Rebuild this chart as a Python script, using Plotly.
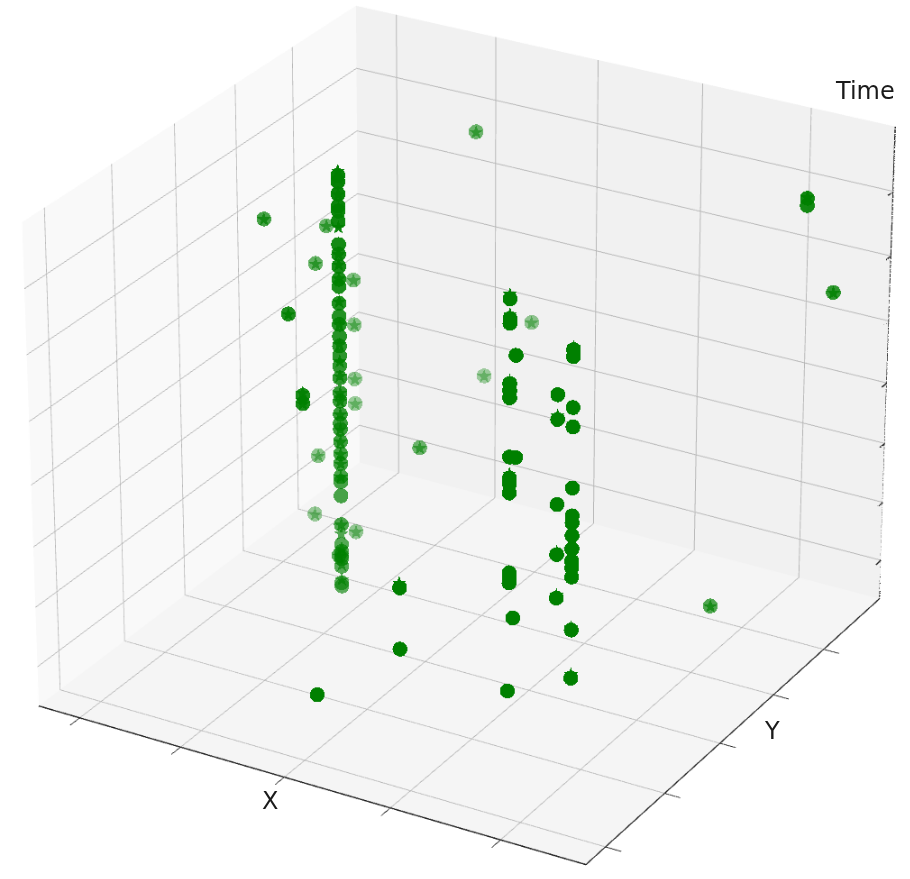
import numpy as np
import plotly.graph_objects as go

# Main column: circles and stars (Time values), with its X and Y
main_x, main_y = .265, .5
main_circle_t = [.935,.922,.897,.872,.862,.841,.793,.773,.748,.721,.706,.671,.644,.627,.602,.582,.561,.540,.515,
                 .483,.466,.438,.419,.406,.380,.354,.333,.305,.294,.264,.202,.159,.144,.134,.129,.112,.076,.069]
main_star_t = [.945,.930,.897,.868,.829,.773,.752,.723,.675,.627,.586,.550,.519,
               .483,.466,.438,.406,.380,.354,.333,.305,.202,.183,.151,.116,.084]

# Second column
mid_x, mid_y = .693, .3
mid_circle_t = [.895,.856,.846,.725,.711,.696,.576,.533,.521,.502,.337,.327,.316]
mid_star_t = [.905,.865,.731,.717,.542,.341]

# Third column and its neighbour
right_x, right_y = .805, .3
right_circle_t = [.825,.811,.709,.670,.546,.489,.474,.448,.421,.396,.382,.363,.253,.152]
right_star_t = [.831,.709,.670,.546,.489,.448,.421,.396,.382,.259,.161]
near_x, near_y = .778, .3
near_circle_t = [.727,.677,.504,.401,.311]
near_star_t = [.685,.407,.318]

# Scattered points carrying both a circle and a star
lone_x = [.256,.09,.099,.2,.063,.259,.111,.112,.112,.1,.112,.092,.172,.296,.553,.473,.804,.349,.275,.815,.923,.26,.704,.704,.70]
lone_y = [.4,.75,.7,.45,.6,.95,.8,.8,.8,.7,.8,.7,.7,.7,.2,.08,.1,.98,.95,.75,.95,.5,.3,.3,.3]
lone_t = [.508,.668,.614,.655,.745,.821,.534,.438,.32,.199,.266,.068,.053,.274,.188,.133,.237,.422,.299,.062,.66,.134,.785,.578,.245]

# Circles and stars that sit a little apart from each other
pair_circle_x = [.256,.553,.897,.897]
pair_circle_y = [.4,.2,.9,.9]
pair_circle_t = [.525,.316,.857,.872]
pair_star_x = [.256,.256,.552,.897]
pair_star_y = [.4,.4,.2,.9]
pair_star_t = [.531,.516,.327,.874]

x_ticks = [.078,.268,.46,.653,.85]
y_ticks = [.062,.253,.437,.62,.797]
t_ticks = [.084,.21,.337,.466,.597,.733,.867]

def gather(main, mid, right, near, px, py, pt):
    x = [main_x] * len(main) + [mid_x] * len(mid) + [right_x] * len(right) + [near_x] * len(near) + lone_x + px
    y = [main_y] * len(main) + [mid_y] * len(mid) + [right_y] * len(right) + [near_y] * len(near) + lone_y + py
    t = main + mid + right + near + lone_t + pt
    return x, y, t

circle_x, circle_y, circle_t = gather(main_circle_t, mid_circle_t, right_circle_t, near_circle_t,
                                      pair_circle_x, pair_circle_y, pair_circle_t)
star_x, star_y, star_t = gather(main_star_t, mid_star_t, right_star_t, near_star_t,
                                pair_star_x, pair_star_y, pair_star_t)

view = np.array([.448, -.776, .443])
z_aspect = .85

def shade(x, y, t):
    x, y, t = map(np.asarray, (x, y, t))
    d = view[0] * x + view[1] * y + view[2] * z_aspect * t
    a = .35 + .65 * np.clip((d + .5) / .6, 0, 1)
    # the 3D renderer blends colours as premultiplied
    return [f"rgba(0,{128 * v:.0f},0,{v:.2f})" for v in a]

fig = go.Figure()
fig.add_trace(go.Scatter3d(x=circle_x, y=circle_y, z=circle_t, mode="markers",
    marker=dict(size=4.8, color=shade(circle_x, circle_y, circle_t), line=dict(width=0)), showlegend=False, hoverinfo="skip"))
fig.add_trace(go.Scatter3d(x=star_x, y=star_y, z=star_t, mode="text", text=["★"] * len(star_x),
    textposition="middle center",
    textfont=dict(size=10.5, family="DejaVu Sans", color=shade(star_x, star_y, star_t)), showlegend=False, hoverinfo="skip"))

edge_x, edge_y, edge_t = [1, 1], [1, 1], [0, 1]
for t in t_ticks:
    edge_x += [None, 1, 1]
    edge_y += [None, .982, 1]
    edge_t += [None, t, t]
fig.add_trace(go.Scatter3d(x=edge_x, y=edge_y, z=edge_t, mode="lines", line=dict(color="#222", width=1.5),
                           connectgaps=False, showlegend=False, hoverinfo="skip"))

def axis(ticks, bg, outer=True):
    return dict(range=[0, 1], autorange=False, tickmode="array", tickvals=ticks, ticktext=[""] * len(ticks),
                showticklabels=False, ticks="outside" if outer else "", ticklen=8, tickcolor="#222", tickwidth=1,
                showgrid=True, gridcolor="#b8b8b8", gridwidth=1, zeroline=False,
                showline=outer, linecolor="#222", linewidth=1.5,
                showbackground=True, backgroundcolor=bg, title=dict(text=""), showspikes=False)

# A long lens: large canvas, placed so the cube's centre falls at (CX, CY) in the window.
SIZE = 5192
CX, CY = 466, 416.5
LEFT, TOP = CX - SIZE / 2, CY - SIZE / 2

def label(text, px, py):
    return dict(text=text, xref="paper", yref="paper", x=(px - LEFT) / SIZE, y=1 - (py - TOP) / SIZE, xanchor="center", yanchor="middle",
                showarrow=False, font=dict(size=24, family="DejaVu Sans", color="#1a1a1a"))

eye = view * 10
fig.update_layout(
    width=SIZE, height=SIZE, margin=dict(l=0, r=0, t=0, b=0), paper_bgcolor="white",
    annotations=[label("X", 270, 800), label("Y", 772, 731), label("Time", 865, 90)],
    scene=dict(
        domain=dict(x=[0, 1], y=[0, 1]),
        aspectmode="manual", aspectratio=dict(x=1, y=1, z=z_aspect),
        xaxis=axis(x_ticks, "#f9f9f9"), yaxis=axis(y_ticks, "#f1f1f1"), zaxis=axis(t_ticks, "#f5f5f5", outer=False),
        camera=dict(eye=dict(x=eye[0], y=eye[1], z=eye[2]), center=dict(x=0, y=0, z=0),
                    up=dict(x=0, y=0, z=1), projection=dict(type="perspective")),
    ),
)
post = f"""var d=document.getElementById('{{plot_id}}');d.style.position='fixed';d.style.left='{LEFT}px';d.style.top='{TOP}px';
document.documentElement.style.overflow='hidden';document.body.style.overflow='hidden';"""
fig.write_html("out.html", post_script=post)
